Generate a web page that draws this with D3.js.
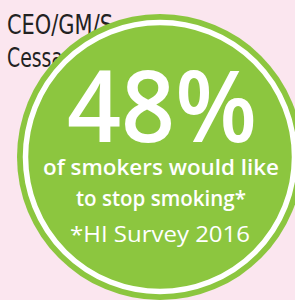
<!DOCTYPE html>
<html><head><meta charset="utf-8">
<script src="https://cdn.jsdelivr.net/npm/d3@7"></script>
<style>html,body{margin:0;padding:0;background:#fbe6ef;overflow:hidden}</style>
</head><body><svg id="c" width="295" height="300"></svg>
<script>
const headerLines = ["CEO/GM/S", "Cessa"];
const headerWidths = [106, 56];
const percentValue = [48];
const captionLines = ["of smokers would like", "to stop smoking*"];
const footnote = ["*HI Survey 2016"];

const W = 295, H = 300;
const svg = d3.select("#c");
svg.append("rect").attr("width", W).attr("height", H).attr("fill", "#fbe6ef");

const hdr = svg.append("g").attr("font-family", "'Liberation Sans Narrow','DejaVu Sans Condensed',sans-serif")
  .attr("font-size", 26).attr("fill", "#222");
hdr.selectAll("text").data(headerLines).join("text")
  .attr("x", 7).attr("y", (d, i) => 34 + i * 33)
  .attr("textLength", (d, i) => headerWidths[i]).attr("lengthAdjust", "spacingAndGlyphs")
  .text(d => d);

const cx = 160, cy = 157, r = 143;
svg.append("circle").attr("cx", cx).attr("cy", cy).attr("r", r).attr("fill", "#8cc63f");
svg.append("circle").attr("cx", cx).attr("cy", cy).attr("r", r - 8.5).attr("fill", "none")
  .attr("stroke", "#fff").attr("stroke-width", 5.5);

const fmt = d3.format("d");
svg.selectAll("text.pct").data(percentValue).join("text").attr("class", "pct")
  .attr("x", 162).attr("y", 142).attr("text-anchor", "middle")
  .attr("font-family", "'Open Sans',sans-serif").attr("font-weight", 600).attr("font-size", 100).attr("fill", "#fff")
  .attr("textLength", 190).attr("lengthAdjust", "spacingAndGlyphs")
  .text(d => fmt(d) + "%");

svg.selectAll("text.cap").data(captionLines).join("text").attr("class", "cap")
  .attr("x", cx + 1).attr("y", (d, i) => 175 + i * 31).attr("text-anchor", "middle")
  .attr("font-family", "'Open Sans',sans-serif").attr("font-weight", 600).attr("font-size", 21).attr("fill", "#fff")
  .attr("textLength", (d, i) => [236, 170][i]).attr("lengthAdjust", "spacingAndGlyphs")
  .text(d => d);

svg.selectAll("text.fn").data(footnote).join("text").attr("class", "fn")
  .attr("x", cx).attr("y", 242).attr("text-anchor", "middle")
  .attr("font-family", "'Open Sans',sans-serif").attr("font-size", 22).attr("fill", "#fff")
  .attr("textLength", 180).attr("lengthAdjust", "spacingAndGlyphs")
  .text(d => d);
</script></body></html>
